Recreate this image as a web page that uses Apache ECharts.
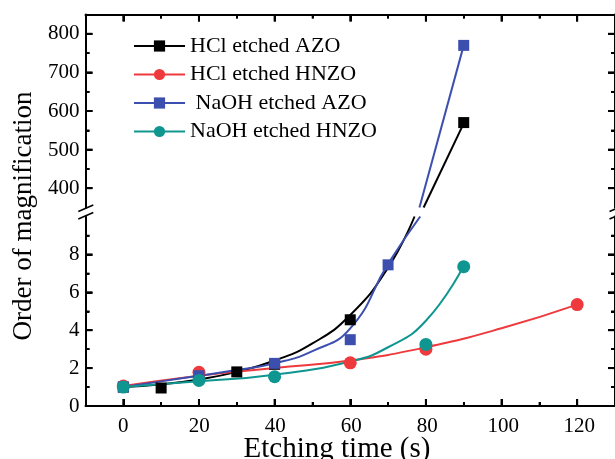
<!DOCTYPE html>
<html>
<head>
<meta charset="utf-8">
<script src="https://cdn.jsdelivr.net/npm/echarts@6/dist/echarts.min.js"></script>
<style>
  html, body { margin: 0; padding: 0; background: #fff; }
  #chart { width: 615px; height: 459px; }
</style>
</head>
<body>
<div id="chart"></div>
<script>
var names = ['HCl etched AZO', 'HCl etched HNZO', ' NaOH etched AZO', 'NaOH etched HNZO'];
var colors = ['#000000', '#ef3a3d', '#3d4fae', '#109690'];
var symbols = ['rect', 'circle', 'rect', 'circle'];

// tick positions
var xMajor = [0, 20, 40, 60, 80, 100, 120];
var xMinor = [10, 30, 50, 70, 90, 110];
var lowMajor = [0, 2, 4, 6, 8];
var lowMinor = [1, 3, 5, 7, 9];
var highMajor = [400, 500, 600, 700, 800];
var highMinor = [450, 550, 650, 750];

// measured points [time, magnification]
var hclAzo = [[0, 1.0], [10, 0.95], [20, 1.5], [30, 1.8], [40, 2.2], [60, 4.55], [90, 570]];
var hclHnzo = [[0, 1.05], [20, 1.78], [60, 2.28], [80, 3.0], [120, 5.35]];
var naohAzo = [[0, 1.0], [20, 1.6], [40, 2.25], [60, 3.5], [70, 7.45], [90, 770]];
var naohHnzo = [[0, 1.0], [20, 1.35], [40, 1.55], [80, 3.25], [90, 7.35]];

// fitted curves (lower / upper part of the broken axis)
var hclAzoFit = [[0, 1.0], [10, 1.15], [20, 1.4], [30, 1.8], [40, 2.4], [50, 3.3], [60, 4.8], [70, 7.3], [77, 10]];
var hclAzoFitUp = [[79.4, 350], [90, 568]];
var hclHnzoFit = [[0, 1.05], [20, 1.6], [40, 2.0], [60, 2.4], [80, 3.1], [100, 4.1], [120, 5.35]];
var naohAzoFit = [[0, 1.0], [10, 1.3], [20, 1.6], [30, 1.9], [40, 2.25], [50, 2.9], [60, 4.1], [70, 7.5], [78.5, 10]];
var naohAzoFitUp = [[78.3, 350], [90, 770]];
var naohHnzoFit = [[0, 1.0], [20, 1.3], [40, 1.65], [60, 2.35], [70, 3.1], [80, 4.5], [90, 7.4]];

var points = [hclAzo, hclHnzo, naohAzo, naohHnzo];
var fitsLow = [hclAzoFit, hclHnzoFit, naohAzoFit, naohHnzoFit];
var fitsHigh = [hclAzoFitUp, null, naohAzoFitUp, null];

var serif = 'Liberation Serif';
var labelFont = { color: '#000', fontFamily: serif, fontSize: 21 };
var lineStyle = { color: '#000', width: 2 };
var tickLine = { color: '#000', width: 2 };

var myChart = echarts.init(document.getElementById('chart'));

// grids 0/1 hold the data; grids 2..4 only carry labels so that they start at 0 / 400
var L = 85.5, W = 531.5;
var x0 = 123.3, xw = 456; // pixel span of 0..120 s

function frameX(grid, pos, ticks, len, line) {
	return {
		type: 'value', gridIndex: grid, position: pos, min: -10, max: 130,
		axisLine: { show: line, onZero: false, lineStyle: lineStyle },
		axisTick: { show: true, inside: true, length: len, customValues: ticks, lineStyle: tickLine },
		axisLabel: { show: false }, splitLine: { show: false }
	};
}
function labelX(grid, pos, labels) {
	return {
		type: 'value', gridIndex: grid, position: pos, min: 0, max: 120, interval: 20,
		axisLine: { show: false, onZero: false },
		axisTick: { show: false },
		axisLabel: Object.assign({ show: labels, margin: 10 }, labelFont),
		splitLine: { show: false }
	};
}
function frameY(grid, pos, min, max, ticks, len, line) {
	return {
		type: 'value', gridIndex: grid, position: pos, min: min, max: max,
		axisLine: { show: line, onZero: false, lineStyle: lineStyle },
		axisTick: { show: true, inside: true, length: len, customValues: ticks, lineStyle: tickLine },
		axisLabel: { show: false }, splitLine: { show: false }
	};
}
function labelY(grid, min, max, step, fmt) {
	return {
		type: 'value', gridIndex: grid, position: 'left', min: min, max: max, interval: step,
		axisLine: { show: false, onZero: false },
		axisTick: { show: false },
		axisLabel: Object.assign({ show: true, margin: 6, formatter: fmt }, labelFont),
		splitLine: { show: false }
	};
}
function hideTop(v) { return v === 10 ? '' : String(v); }
function hidden(grid) {
	return { type: 'value', gridIndex: grid, show: false, min: 0, max: 1, axisLine: { onZero: false } };
}

var xAxes = [
	frameX(0, 'top', xMajor, 7, true),       // 0 data axis, upper part
	frameX(1, 'bottom', xMajor, 7, true),    // 1 data axis, lower part
	labelX(2, 'top', false),                 // 2
	labelX(3, 'bottom', true),               // 3
	hidden(4),                               // 4
	frameX(0, 'top', xMinor, 4, false),      // 5 minor ticks
	frameX(1, 'bottom', xMinor, 4, false)    // 6
];
var yAxes = [
	frameY(0, 'left', 350, 850, highMajor, 7, true),   // 0 data axis, upper part
	frameY(0, 'right', 350, 850, highMajor, 7, true),  // 1
	frameY(1, 'left', 0, 10, lowMajor, 7, true),       // 2 data axis, lower part
	frameY(1, 'right', 0, 10, lowMajor, 7, true),      // 3
	labelY(4, 400, 800, 100),                          // 4 labels of the upper part
	labelY(1, 0, 10, 2, hideTop),                      // 5 labels of the lower part
	hidden(2),                                         // 6
	hidden(3),                                         // 7
	frameY(0, 'left', 350, 850, highMinor, 4, false),  // 8 minor ticks
	frameY(0, 'right', 350, 850, highMinor, 4, false), // 9
	frameY(1, 'left', 0, 10, lowMinor, 4, false),      // 10
	frameY(1, 'right', 0, 10, lowMinor, 4, false)      // 11
];

// tick marks also drawn as thin marks placed by the data axes
function tickSeries(xi, yi, data, w, h, dx, dy) {
	return {
		type: 'scatter', xAxisIndex: xi, yAxisIndex: yi, data: data, symbol: 'rect',
		symbolSize: [w, h], symbolOffset: [dx, dy], clip: false, z: 5,
		itemStyle: { color: '#000', opacity: 1 }
	};
}
function at(vals, fn) { return vals.map(fn); }

var series = [
	tickSeries(1, 2, at(xMajor, function (v) { return [v, 0]; }), 2, 7, 0, -3.5),
	tickSeries(1, 2, at(xMinor, function (v) { return [v, 0]; }), 1.5, 4, 0, -2),
	tickSeries(0, 0, at(xMajor, function (v) { return [v, 850]; }), 2, 7, 0, 3.5),
	tickSeries(0, 0, at(xMinor, function (v) { return [v, 850]; }), 1.5, 4, 0, 2),
	tickSeries(1, 2, at(lowMajor, function (v) { return [-10, v]; }), 7, 2, 3.5, 0),
	tickSeries(1, 2, at(lowMinor, function (v) { return [-10, v]; }), 4, 1.5, 2, 0),
	tickSeries(1, 2, at(lowMajor, function (v) { return [130, v]; }), 7, 2, -3.5, 0),
	tickSeries(1, 2, at(lowMinor, function (v) { return [130, v]; }), 4, 1.5, -2, 0),
	tickSeries(0, 0, at(highMajor, function (v) { return [-10, v]; }), 7, 2, 3.5, 0),
	tickSeries(0, 0, at(highMinor, function (v) { return [-10, v]; }), 4, 1.5, 2, 0),
	tickSeries(0, 0, at(highMajor, function (v) { return [130, v]; }), 7, 2, -3.5, 0),
	tickSeries(0, 0, at(highMinor, function (v) { return [130, v]; }), 4, 1.5, -2, 0)
];

for (var i = 0; i < 4; i++) {
	series.push({
		name: names[i], type: 'line', xAxisIndex: 1, yAxisIndex: 2,
		data: fitsLow[i], smooth: 0.5, showSymbol: false,
		symbol: symbols[i], symbolSize: 11, clip: true, z: 2,
		itemStyle: { color: colors[i] }, lineStyle: { color: colors[i], width: 2 }
	});
	if (fitsHigh[i]) {
		series.push({
			type: 'line', xAxisIndex: 0, yAxisIndex: 0,
			data: fitsHigh[i], showSymbol: false, clip: true, z: 2,
			lineStyle: { color: colors[i], width: 2 }
		});
	}
}
for (var j = 0; j < 4; j++) {
	var low = points[j].filter(function (p) { return p[1] <= 10; });
	var high = points[j].filter(function (p) { return p[1] > 10; });
	var sz = symbols[j] === 'rect' ? 11 : 13;
	series.push({
		type: 'scatter', xAxisIndex: 1, yAxisIndex: 2, data: low, symbol: symbols[j],
		symbolSize: sz, itemStyle: { color: colors[j], opacity: 1 }, z: 6 + j
	});
	if (high.length) {
		series.push({
			type: 'scatter', xAxisIndex: 0, yAxisIndex: 0, data: high, symbol: symbols[j],
			symbolSize: sz, itemStyle: { color: colors[j], opacity: 1 }, z: 6 + j
		});
	}
}

function brk(x) {
	return [
		{ type: 'line', shape: { x1: x - 7.5, y1: 211.5, x2: x + 7.5, y2: 205 }, style: { stroke: '#000', lineWidth: 1.5 } },
		{ type: 'line', shape: { x1: x - 7.5, y1: 219, x2: x + 7.5, y2: 212.5 }, style: { stroke: '#000', lineWidth: 1.5 } }
	];
}

var option = {
	animation: false,
	backgroundColor: '#fff',
	grid: [
		{ left: L, top: 14.5, width: W, height: 193 },
		{ left: L, top: 216.5, width: W, height: 189.5 },
		{ left: x0, top: 14.5, width: xw, height: 193 },
		{ left: x0, top: 216.5, width: xw, height: 189.5 },
		{ left: L, top: 33.9, width: W, height: 155 }
	],
	xAxis: xAxes,
	yAxis: yAxes,
	legend: {
		data: names,
		orient: 'vertical',
		left: 128, top: 30,
		itemWidth: 51, itemHeight: 14, itemGap: 6.5,
		textStyle: { color: '#000', fontFamily: serif, fontSize: 22, lineHeight: 22 }
	},
	graphic: [].concat(brk(85.8), brk(617), [
		{
			type: 'text', x: 24, y: 216, rotation: Math.PI / 2,
			style: { text: 'Order of magnification', fill: '#000', font: '27px "Liberation Serif"', align: 'center', verticalAlign: 'middle' }
		},
		{
			type: 'text', x: 337, y: 449,
			style: { text: 'Etching time (s)', fill: '#000', font: '29px "Liberation Serif"', align: 'center', verticalAlign: 'middle' }
		}
	]),
	series: series
};
myChart.setOption(option);
</script>
</body>
</html>
